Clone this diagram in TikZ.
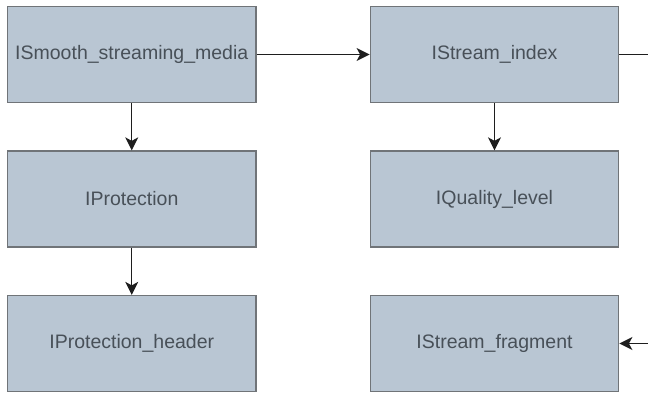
\documentclass[tikz,border=0pt]{standalone}
\usepackage{fontspec}
\setmainfont{Liberation Sans}
\usetikzlibrary{arrows.meta}
\definecolor{boxfill}{RGB}{185,198,211}
\definecolor{boxline}{RGB}{112,116,120}
\definecolor{boxtext}{RGB}{72,80,88}
\definecolor{conn}{RGB}{30,30,30}
\begin{document}
\begin{tikzpicture}[x=1pt,y=1pt,
  cls/.style={draw=boxline,line width=1.3pt,fill=boxfill,minimum width=248.5pt,minimum height=96pt,inner sep=0pt,text=boxtext,font=\fontsize{19.5}{22}\selectfont,anchor=center},
  link/.style={draw=conn,line width=1.3pt,-{Stealth[length=13pt,width=13pt,inset=3.5pt]}}]
\useasboundingbox (0,0) rectangle (648,392);
\fill[white] (0,0) rectangle (648,392);
\node[cls] (ssm) at (131.75,337.5) {ISmooth\_streaming\_media};
\node[cls] (si) at (494.5,337.5) {IStream\_index};
\node[cls] (prot) at (131.75,193) {IProtection};
\node[cls] (ql) at (494.5,193) {IQuality\_level};
\node[cls] (ph) at (131.75,48.5) {IProtection\_header};
\node[cls] (sf) at (494.5,48.5) {IStream\_fragment};
\coordinate (c1) at (660,337.5);
\coordinate (c2) at (660,48.5);
\draw[link] (ssm.east) -- (si.west);
\draw[link] (ssm.south) -- (prot.north);
\draw[link] (prot.south) -- (ph.north);
\draw[link] (si.south) -- (ql.north);
\draw[link] (si.east) -- (c1) -- (c2) -- (sf.east);
\end{tikzpicture}
\end{document}
